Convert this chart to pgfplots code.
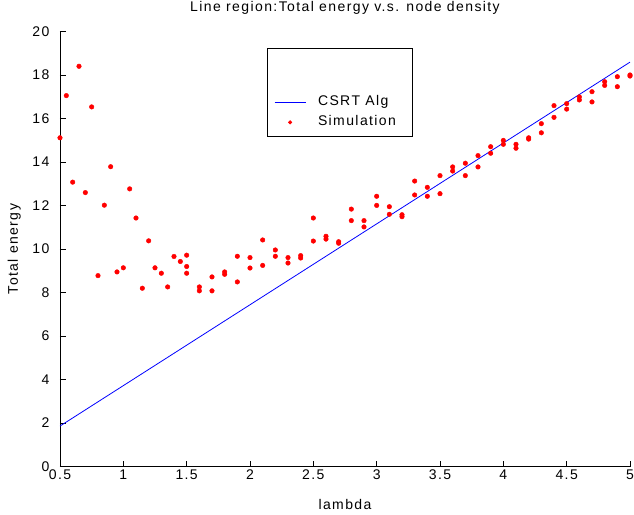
\documentclass[border=0pt]{standalone}
\usepackage{fontspec}
\setmainfont{Liberation Sans}[LetterSpace=10]
\usepackage{pgfplots}
\pgfplotsset{compat=1.18}
\begin{document}
\begin{tikzpicture}
\begin{axis}[
  scale only axis, width=570pt, height=434.8pt,
  xmin=0.5, xmax=5, ymin=0, ymax=20,
  xtick={0.5,1,1.5,2,2.5,3,3.5,4,4.5,5}, ytick={0,2,...,20},
  axis x line*=bottom, axis y line*=left, axis line style={-, black, line width=0.7pt},
  tick align=inside, major tick length=5.5pt, tick style={black, line width=0.7pt},
  /pgf/number format/assume math mode=true,
  tick label style={font=\fontsize{14}{16}\selectfont},
  yticklabel style={xshift=-7pt},
  label style={font=\fontsize{14}{16}\selectfont},
  title={Line region:Total energy v.s. node density},
  title style={at={(axis description cs:0.5,1.0333)}, anchor=base, font=\fontsize{14}{16}\selectfont},
  xlabel={lambda},
  xlabel style={at={(axis description cs:0.5,-0.1)}, anchor=base},
  ylabel={Total energy},
  ylabel style={at={(axis description cs:-0.0737,0.5)}, anchor=base},
  clip=false,
  legend cell align=left,
  legend style={at={(0.363,0.9625)}, anchor=north west, draw=black, line width=0.6pt,
    inner xsep=7pt, inner ysep=4pt, row sep=0pt, column sep=10pt,
    font=\fontsize{14}{16}\selectfont,
    nodes={text height=10pt, text depth=3pt, inner ysep=3.5pt}},
  legend image code/.code={\draw[mark repeat=2,mark phase=2,#1] plot coordinates {(0pt,0pt) (15.5pt,0pt) (31pt,0pt)};},
]
\addlegendimage{empty legend}
\addlegendentry[text height=30pt]{}
\addplot[blue, line width=0.8pt, mark=none] coordinates {(0.5,1.86) (5,18.6)};
\addlegendentry{CSRT Alg}
\addplot[only marks, mark=*, mark size=2.3pt, red,
  legend image post style={mark size=1.7pt}] table {
x y
0.50 15.12
0.55 17.06
0.60 13.08
0.65 18.41
0.70 12.60
0.75 16.54
0.80 8.78
0.85 12.02
0.90 13.79
0.95 8.95
1.00 9.14
1.05 12.77
1.10 11.43
1.15 8.20
1.20 10.38
1.25 9.14
1.30 8.89
1.35 8.26
1.40 9.66
1.45 9.43
1.50 9.72
1.50 9.20
1.50 8.89
1.60 8.26
1.60 8.08
1.70 8.72
1.70 8.08
1.80 8.95
1.80 8.84
1.90 9.67
1.90 8.49
2.00 9.61
2.00 9.13
2.10 10.42
2.10 9.25
2.20 9.96
2.20 9.67
2.30 9.61
2.30 9.36
2.40 9.70
2.40 9.59
2.50 11.43
2.50 10.37
2.60 10.59
2.60 10.46
2.70 10.34
2.70 10.27
2.80 11.84
2.80 11.31
2.90 11.31
2.90 11.02
3.00 12.43
3.00 12.01
3.10 11.95
3.10 11.60
3.20 11.58
3.20 11.49
3.30 13.13
3.30 12.49
3.40 12.84
3.40 12.43
3.50 13.38
3.50 12.55
3.60 13.78
3.60 13.59
3.70 13.95
3.70 13.38
3.80 14.30
3.80 13.78
3.90 14.71
3.90 14.41
4.00 15.00
4.00 14.82
4.10 14.82
4.10 14.64
4.20 15.12
4.20 15.06
4.30 15.77
4.30 15.35
4.40 16.60
4.40 16.06
4.50 16.69
4.50 16.44
4.60 17.00
4.60 16.86
4.70 17.24
4.70 16.77
4.80 17.70
4.80 17.53
4.90 17.93
4.90 17.47
5.00 18.01
5.00 17.96
};
\addlegendentry{Simulation\rule{7pt}{0pt}}
\coordinate (bl) at (rel axis cs:0,0);
\coordinate (tr) at (rel axis cs:1,1);
\end{axis}
\pgfresetboundingbox
\path ([shift={(-60pt,-47.5pt)}]bl) rectangle ([shift={(4pt,31.7pt)}]tr);
\end{tikzpicture}
\end{document}
